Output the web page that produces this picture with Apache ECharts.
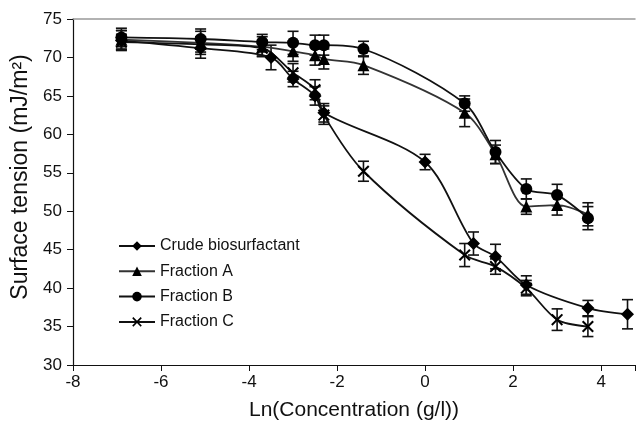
<!DOCTYPE html>
<html><head><meta charset="utf-8">
<script src="https://cdn.jsdelivr.net/npm/echarts@6/dist/echarts.min.js"></script>
<style>html,body{margin:0;padding:0;background:#fff}#c{width:638px;height:426px}</style>
</head><body><div id="c"></div>
<script>
var crudeX = [-6.9, -5.1, -3.5, -3.0, -2.5, -2.3, 0, 1.1, 1.6, 2.3, 3.7, 4.6];
var crudeY = [72.2, 71.2, 70.0, 67.2, 65.0, 62.8, 56.4, 45.8, 44.1, 40.4, 37.4, 36.6];
var crudeErr = [1.3, 1.3, 1.6, 1.0, 1.2, 1.2, 1.0, 1.5, 1.6, 1.2, 1.0, 1.9];

var fracX = [-6.9, -5.1, -3.7, -3.0, -2.5, -2.3, -1.4, 0.9, 1.6, 2.3, 3.0, 3.7];
var fracAY = [72.3, 71.9, 71.4, 70.8, 70.3, 69.8, 69.0, 62.8, 57.4, 50.6, 50.8, 49.6];
var fracAErr = [1.2, 1.5, 1.3, 1.3, 1.3, 1.3, 1.2, 1.8, 1.2, 1.0, 1.3, 1.5];
var fracBY = [72.6, 72.4, 72.0, 71.9, 71.6, 71.6, 71.1, 64.0, 57.7, 52.9, 52.1, 49.1];
var fracBErr = [1.2, 1.3, 1.0, 1.5, 1.3, 1.3, 1.0, 1.0, 1.5, 1.3, 1.4, 1.5];
var fracCY = [72.0, 71.7, 71.2, 68.0, 65.8, 62.5, 55.2, 44.3, 42.8, 40.0, 35.9, 35.0];
var fracCErr = [1.0, 1.0, 1.0, 1.2, 1.3, 1.2, 1.3, 1.5, 1.0, 1.0, 1.4, 1.3];

var names = ['Crude biosurfactant', 'Fraction A', 'Fraction B', 'Fraction C'];
var xTicks = [-8, -6, -4, -2, 0, 2, 4];

var X_SYM = 'path://M0,1.2L1.2,0L5,3.8L8.8,0L10,1.2L6.2,5L10,8.8L8.8,10L5,6.2L1.2,10L0,8.8L3.8,5Z';

function pts(xs, ys) { return xs.map(function (x, i) { return [x, ys[i]]; }); }
function errs(xs, ys, es) { return xs.map(function (x, i) { return [x, ys[i] - es[i], ys[i] + es[i]]; }); }

function errorSeries(data) {
  return {
    type: 'custom', data: data, z: 1, silent: true,
    renderItem: function (params, api) {
      var x = api.value(0);
      var lo = api.coord([x, api.value(1)]);
      var hi = api.coord([x, api.value(2)]);
      var w = 5.5;
      var st = { stroke: '#111', lineWidth: 1.6, fill: null };
      return { type: 'group', children: [
        { type: 'line', shape: { x1: lo[0], y1: lo[1], x2: hi[0], y2: hi[1] }, style: st },
        { type: 'line', shape: { x1: lo[0] - w, y1: lo[1], x2: lo[0] + w, y2: lo[1] }, style: st },
        { type: 'line', shape: { x1: hi[0] - w, y1: hi[1], x2: hi[0] + w, y2: hi[1] }, style: st }
      ] };
    },
    encode: { x: 0, y: [1, 2] }
  };
}

function lineSeries(name, data, symbol, size, color) {
  return {
    name: name, type: 'line', data: data, smooth: 0.3, z: 3,
    symbol: symbol, symbolSize: size, showSymbol: true,
    lineStyle: { color: color, width: 1.8 },
    itemStyle: { color: '#000', borderColor: '#000', borderWidth: 0 }
  };
}

var FONT = 'Liberation Sans, Arial';
var chart = echarts.init(document.getElementById('c'));
chart.setOption({
  animation: false,
  grid: { left: 73, right: 0, top: 19, bottom: 59, containLabel: false },
  legend: {
    data: names, orient: 'vertical', left: 113, top: 233,
    itemWidth: 36, itemHeight: 12, itemGap: 9.3,
    textStyle: { fontFamily: FONT, fontSize: 16, color: '#111' }
  },
  xAxis: [{
    type: 'value', min: -8, max: 4.77, interval: 2,
    name: 'Ln(Concentration (g/l))', nameLocation: 'middle', nameGap: 35,
    nameTextStyle: { fontFamily: FONT, fontSize: 21, color: '#111' },
    axisLine: { onZero: false, lineStyle: { color: '#111', width: 1.2 } },
    axisTick: { show: true, length: 6, lineStyle: { color: '#111' } },
    axisLabel: { fontFamily: FONT, fontSize: 17, color: '#111', margin: 9,
      formatter: function (v) { return xTicks.indexOf(Math.round(v * 100) / 100) >= 0 ? String(v) : ''; } },
    splitLine: { show: false }
  }, {
    type: 'value', position: 'top', min: -8, max: 4.77,
    axisLine: { show: true, onZero: false, lineStyle: { color: '#999', width: 1.5 } },
    axisTick: { show: false }, axisLabel: { show: false }, splitLine: { show: false }
  }],
  yAxis: {
    type: 'value', min: 30, max: 75, interval: 5,
    name: 'Surface tension (mJ/m²)', nameLocation: 'middle', nameGap: 39, nameRotate: 90,
    nameTextStyle: { fontFamily: FONT, fontSize: 23, color: '#111', padding: [0, 0, 0, 30] },
    axisLine: { show: true, onZero: false, lineStyle: { color: '#111', width: 1.2 } },
    axisTick: { show: true, length: 6, lineStyle: { color: '#111' } },
    axisLabel: { fontFamily: FONT, fontSize: 17, color: '#111', margin: 11 },
    splitLine: { show: false }
  },
  series: [
    errorSeries(errs(crudeX, crudeY, crudeErr)),
    errorSeries(errs(fracX, fracAY, fracAErr)),
    errorSeries(errs(fracX, fracBY, fracBErr)),
    errorSeries(errs(fracX, fracCY, fracCErr)),
    lineSeries(names[0], pts(crudeX, crudeY), 'diamond', 13, '#111'),
    lineSeries(names[1], pts(fracX, fracAY), 'triangle', 12, '#333'),
    lineSeries(names[2], pts(fracX, fracBY), 'circle', 12, '#111'),
    lineSeries(names[3], pts(fracX, fracCY), X_SYM, 12, '#111')
  ]
});
</script></body></html>
